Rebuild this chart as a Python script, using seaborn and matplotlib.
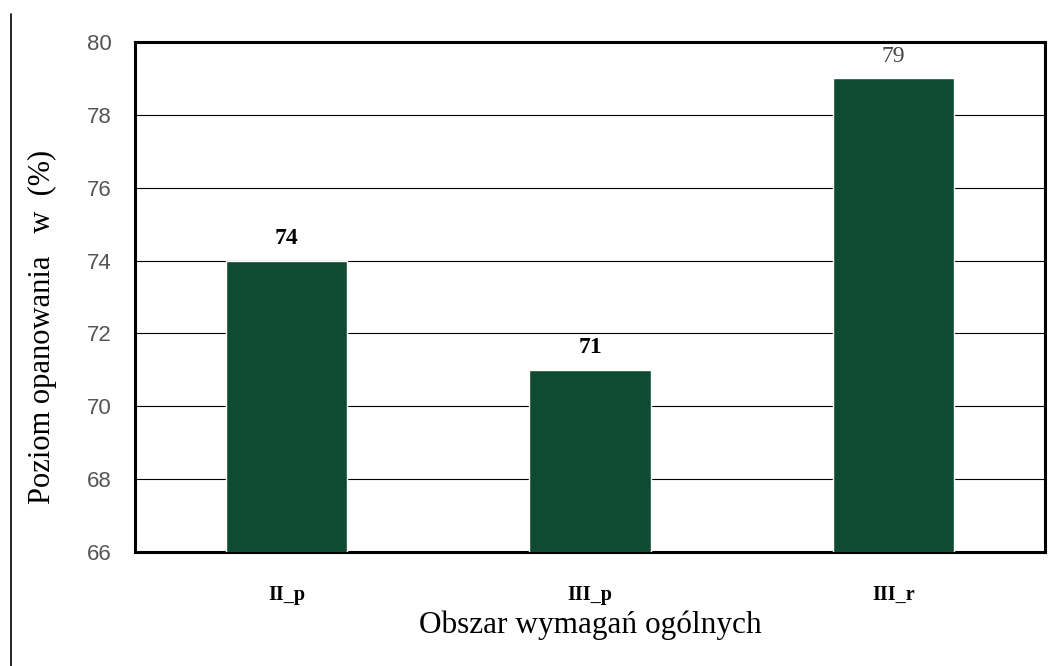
import matplotlib
matplotlib.use("Agg")
import matplotlib.pyplot as plt
import seaborn as sns
import pandas as pd
from matplotlib.lines import Line2D

# dane
categories = ["II_p", "III_p", "III_r"]
values = [74, 71, 79]
y_ticks = [66, 68, 70, 72, 74, 76, 78, 80]

df = pd.DataFrame({"obszar": categories, "poziom": values})

sns.set_theme(style="white")
plt.rcParams["font.family"] = ["Liberation Serif", "DejaVu Serif"]
plt.rcParams["text.color"] = "black"
plt.rcParams["axes.labelcolor"] = "black"
plt.rcParams["xtick.color"] = "black"

fig = plt.figure(figsize=(10.61, 6.66), dpi=100)
ax = fig.add_axes([135 / 1061, 1 - 552 / 666, 910 / 1061, 510 / 666])

sns.barplot(data=df, x="obszar", y="poziom", color="#0f4a32", width=0.4,
            saturation=1, ax=ax, zorder=3)

ax.set_ylim(66, 80)
ax.set_yticks(y_ticks)
ax.yaxis.grid(True, color="black", linewidth=0.8)
ax.set_axisbelow(True)
for s in ax.spines.values():
    s.set_color("black")
    s.set_linewidth(2.2)

ax.tick_params(axis="y", direction="in", length=4, width=0.8, color="black",
               labelsize=16, labelcolor="#555555", pad=17)
for lab in ax.get_yticklabels():
    lab.set_fontfamily(["Liberation Sans", "DejaVu Sans"])
ax.tick_params(axis="x", length=0, labelsize=14.5, pad=24, labelcolor="black")
for lab in ax.get_xticklabels():
    lab.set_fontweight("bold")

for i, v in enumerate(values):
    bold = "normal" if v == 79 else "bold"
    col = "#444444" if v == 79 else "black"
    ax.text(i, v + 0.45, str(v), ha="center", va="baseline", fontsize=17,
            fontweight=bold, color=col)

ax.set_xlabel("Obszar wymagań ogólnych", fontsize=22.5, labelpad=4)
ax.set_ylabel("Poziom opanowania   w  (%)", fontsize=22)
ax.yaxis.set_label_coords(-0.086, 0.441)

fig.add_artist(Line2D([11 / 1061, 11 / 1061], [0, 1 - 14 / 666],
                      color="black", linewidth=1.2))

fig.savefig("out.png", dpi=100, facecolor="white")
